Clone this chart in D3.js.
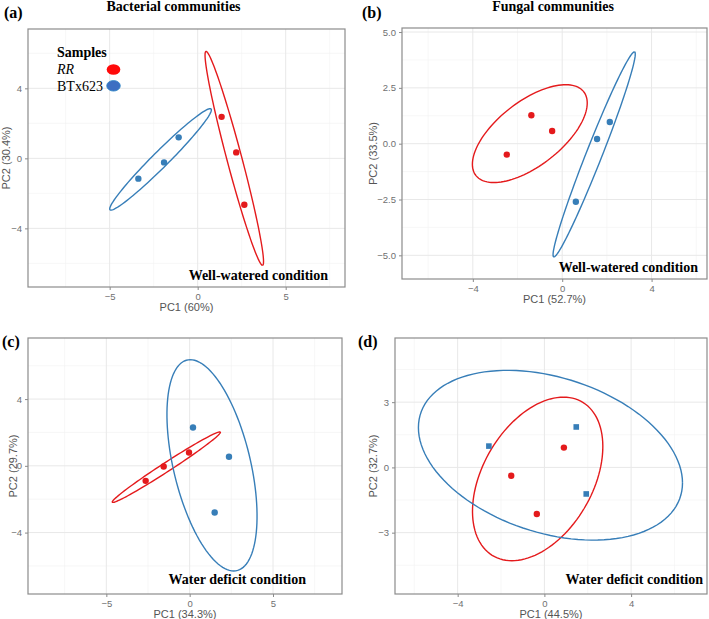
<!DOCTYPE html>
<html><head><meta charset="utf-8">
<script src="https://cdn.jsdelivr.net/npm/d3@7"></script>
<style>body{margin:0;background:#fff}svg{display:block}</style>
</head><body>
<svg id="chart" width="709" height="619"></svg>
<script>
// ---- data ----
const panelIds = ["(a)", "(b)", "(c)", "(d)"];
const panelTitles = ["Bacterial communities", "Fungal communities", "", ""];
const conditions = ["Well-watered condition", "Well-watered condition", "Water deficit condition", "Water deficit condition"];
const xLabels = ["PC1 (60%)", "PC1 (52.7%)", "PC1 (34.3%)", "PC1 (44.5%)"];
const yLabels = ["PC2 (30.4%)", "PC2 (33.5%)", "PC2 (29.7%)", "PC2 (32.7%)"];
const xDomains = [[-9.64, 8.37], [-7.17, 6.48], [-9.7, 9.14], [-6.89, 7.5]];
const yDomains = [[-7.35, 7.39], [-6.06, 5.18], [-7.68, 7.66], [-5.82, 5.95]];
const xTicks = [[-5, 0, 5], [-4, 0, 4], [-5, 0, 5], [-4, 0, 4]];
const yTicks = [[-4, 0, 4], [-5, -2.5, 0, 2.5, 5], [-4, 0, 4], [-3, 0, 3]];
const xMinor = [[-7.5, -2.5, 2.5, 7.5], [-6, -2, 2, 6], [-7.5, -2.5, 2.5, 7.5], [-6, -2, 2, 6]];
const yMinor = [[-6, -2, 2, 6], [-3.75, -1.25, 1.25, 3.75], [-6, -2, 2, 6], [-4.5, -1.5, 1.5, 4.5]];
const yTickFormats = [d3.format("d"), d3.format(".1f"), d3.format("d"), d3.format("d")];

const seriesNames = ["RR", "BTx623"];
// RR samples
const rrX = [[1.36, 2.19, 2.65], [-2.48, -1.38, -0.45], [-2.64, -1.56, -0.04], [-1.53, -0.35, 0.90]];
const rrY = [[2.37, 0.34, -2.65], [-0.49, 1.27, 0.57], [-0.90, -0.04, 0.80], [-0.38, -2.14, 0.91]];
// BTx623 samples
const btX = [[-3.37, -1.91, -1.08], [0.61, 1.56, 2.13], [0.20, 2.36, 1.50], [-2.56, 1.47, 1.93]];
const btY = [[-1.16, -0.23, 1.20], [-2.60, 0.21, 0.97], [2.30, 0.54, -2.80], [0.98, 1.86, -1.22]];
// confidence ellipses in data units: [cx, cy, ux, uy, vx, vy] (conjugate semi-diameters)
const rrEllipse = [[2.08, 0.00, 1.61, -6.11, 0.41, 0.11], [-1.45, 0.45, 2.57, 1.37, 0, 1.71], [-1.40, -0.08, 3.24, 2.10, 0.147, -0.227], [-0.31, -0.53, 1.19, 3.76, 2.76, 0]];
const btEllipse = [[-2.11, -0.06, 2.87, 2.88, 0.32, -0.32], [1.43, -0.48, 1.81, 4.59, 0.33, -0.13], [1.34, 0.03, -1.30, 6.33, 2.37, 0], [0.28, 0.56, 6.09, -1.27, 0, 3.69]];
const markerShapes = [["circle", "circle"], ["circle", "circle"], ["circle", "circle"], ["circle", "square"]];

// ---- layout ----
const boxes = [
  {x0: 28, x1: 345, y0: 29, y1: 287},
  {x0: 402, x1: 707, y0: 28, y1: 279},
  {x0: 28, x1: 342, y0: 338, y1: 594},
  {x0: 395, x1: 707, y0: 338, y1: 594}
];
const idPos = [[4, 18], [362, 18], [2, 347], [358, 347]];
const condPos = [[328, 280], [698, 272], [306, 584], [703, 584]];
const titleX = [173.5, 553];
const yLabelX = [10, 377, 17, 377];
const RED = "#e41a1c", BLUE = "#377eb8";
const SANS = "'Liberation Sans', Arial, sans-serif";
const SERIF = "'Liberation Serif', 'Times New Roman', serif";

const svg = d3.select("#chart");

panelIds.forEach((pid, i) => {
  const b = boxes[i];
  const x = d3.scaleLinear().domain(xDomains[i]).range([b.x0, b.x1]);
  const y = d3.scaleLinear().domain(yDomains[i]).range([b.y1, b.y0]);
  const g = svg.append("g");

  // grid
  g.selectAll(null).data(xMinor[i]).join("line")
    .attr("x1", d => x(d)).attr("x2", d => x(d)).attr("y1", b.y0).attr("y2", b.y1)
    .attr("stroke", "#f2f2f2").attr("stroke-width", 0.6);
  g.selectAll(null).data(yMinor[i]).join("line")
    .attr("y1", d => y(d)).attr("y2", d => y(d)).attr("x1", b.x0).attr("x2", b.x1)
    .attr("stroke", "#f2f2f2").attr("stroke-width", 0.6);
  g.selectAll(null).data(xTicks[i]).join("line")
    .attr("x1", d => x(d)).attr("x2", d => x(d)).attr("y1", b.y0).attr("y2", b.y1)
    .attr("stroke", "#e8e8e8").attr("stroke-width", 1);
  g.selectAll(null).data(yTicks[i]).join("line")
    .attr("y1", d => y(d)).attr("y2", d => y(d)).attr("x1", b.x0).attr("x2", b.x1)
    .attr("stroke", "#e8e8e8").attr("stroke-width", 1);

  // axes
  const xa = g.append("g").attr("transform", `translate(0,${b.y1})`)
    .call(d3.axisBottom(x).tickValues(xTicks[i]).tickSize(3).tickPadding(3).tickFormat(d3.format("d")));
  const ya = g.append("g").attr("transform", `translate(${b.x0},0)`)
    .call(d3.axisLeft(y).tickValues(yTicks[i]).tickSize(3).tickPadding(3).tickFormat(yTickFormats[i]));
  [xa, ya].forEach(a => {
    a.select(".domain").remove();
    a.selectAll(".tick line").attr("stroke", "#8a8a8a");
    a.selectAll(".tick text").attr("fill", "#707070").style("font-family", SANS).style("font-size", "9.5px");
  });

  // border
  g.append("rect").attr("x", b.x0).attr("y", b.y0).attr("width", b.x1 - b.x0).attr("height", b.y1 - b.y0)
    .attr("fill", "none").attr("stroke", "#8c8c8c").attr("stroke-width", 1.2);

  // ellipses
  const ellLine = d3.line().x(p => x(p[0])).y(p => y(p[1]));
  const ellPts = e => d3.range(0, 361, 3).map(t => {
    const a = t * Math.PI / 180;
    return [e[0] + e[2] * Math.cos(a) + e[4] * Math.sin(a), e[1] + e[3] * Math.cos(a) + e[5] * Math.sin(a)];
  });
  [[rrEllipse[i], RED], [btEllipse[i], BLUE]].forEach(([e, c]) => {
    g.append("path").attr("d", ellLine(ellPts(e))).attr("fill", "none").attr("stroke", c).attr("stroke-width", 1.4);
  });

  // points
  const groups = [[rrX[i], rrY[i], RED, markerShapes[i][0]], [btX[i], btY[i], BLUE, markerShapes[i][1]]];
  groups.forEach(([xs, ys, c, shape]) => {
    const pts = xs.map((v, k) => [v, ys[k]]);
    if (shape === "circle") {
      g.selectAll(null).data(pts).join("circle")
        .attr("cx", d => x(d[0])).attr("cy", d => y(d[1])).attr("r", 3.2).attr("fill", c);
    } else {
      g.selectAll(null).data(pts).join("rect")
        .attr("x", d => x(d[0]) - 2.8).attr("y", d => y(d[1]) - 2.8).attr("width", 5.6).attr("height", 5.6).attr("fill", c);
    }
  });

  // axis labels
  g.append("text").attr("x", (b.x0 + b.x1) / 2).attr("y", b.y1 + 24).attr("text-anchor", "middle")
    .attr("fill", "#555").style("font-family", SANS).style("font-size", "11px").text(xLabels[i]);
  g.append("text").attr("transform", `translate(${yLabelX[i]},${(b.y0 + b.y1) / 2}) rotate(-90)`).attr("text-anchor", "middle")
    .attr("fill", "#555").style("font-family", SANS).style("font-size", "11px").text(yLabels[i]);

  // condition label
  g.append("text").attr("x", condPos[i][0]).attr("y", condPos[i][1]).attr("text-anchor", "end")
    .style("font-family", SERIF).style("font-weight", "bold").style("font-size", "14px").attr("fill", "#000")
    .text(conditions[i]);

  // panel id
  svg.append("text").attr("x", idPos[i][0]).attr("y", idPos[i][1])
    .style("font-family", SERIF).style("font-weight", "bold").style("font-size", "16px").text(pid);

  // title
  if (panelTitles[i]) {
    svg.append("text").attr("x", titleX[i]).attr("y", 11).attr("text-anchor", "middle")
      .style("font-family", SERIF).style("font-weight", "bold").style("font-size", "14px").text(panelTitles[i]);
  }
});

// legend in panel (a)
const leg = svg.append("g");
leg.append("text").attr("x", 57).attr("y", 57).style("font-family", SERIF).style("font-weight", "bold")
  .style("font-size", "14px").text("Samples");
const legColors = ["#ff0a0a", "#3c6fc2"];
seriesNames.forEach((s, k) => {
  leg.append("text").attr("x", 57).attr("y", 74 + k * 16.5).style("font-family", SERIF)
    .style("font-style", k === 0 ? "italic" : "normal").style("font-size", "14px").text(s);
  leg.append("ellipse").attr("cx", 113.5).attr("cy", 69.5 + k * 16.3).attr("rx", 6.8).attr("ry", 5.3)
    .attr("fill", legColors[k]).attr("stroke", k === 1 ? "#2f86c6" : "none").attr("stroke-width", 0.8);
});
</script>
</body></html>
